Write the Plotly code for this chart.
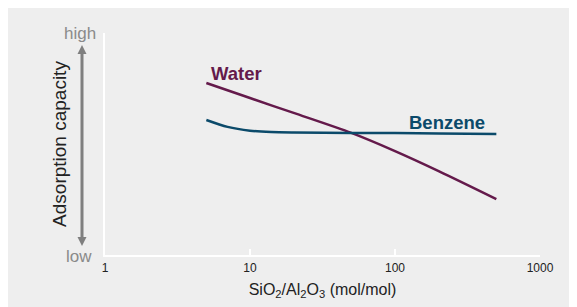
import plotly.graph_objects as go

# Data (SiO2/Al2O3 ratio vs relative adsorption capacity, 0-100 scale)
ratio = [5, 10, 20, 50, 100, 200, 500]
water = [77.5, 70.7, 64.0, 55.0, 46.8, 37.8, 25.2]
benzene_ratio = [5, 7, 10, 14, 20, 50, 100, 200, 500]
benzene = [60.8, 57.7, 56.0, 55.4, 55.2, 55.0, 54.9, 54.7, 54.5]
tick_vals = [1, 10, 100, 1000]
tick_text = ["1", "10", "100", "1000"]

WATER_C = "#641a4b"
BENZ_C = "#0b4a6a"
ARROW_C = "#7f7f7f"
FONT = "Liberation Sans, Arial, sans-serif"

fig = go.Figure()
fig.add_trace(go.Scatter(x=ratio, y=water, mode="lines", name="Water",
                         line=dict(color=WATER_C, width=2.5, shape="spline", smoothing=0.8),
                         showlegend=False))
fig.add_trace(go.Scatter(x=benzene_ratio, y=benzene, mode="lines", name="Benzene",
                         line=dict(color=BENZ_C, width=2.5, shape="spline", smoothing=0.8),
                         showlegend=False))

W, H = 577, 307
L, R, T, B = 97, 45, 25, 60
pw, ph = W - L - R, H - T - B

# helpers: screen coords of the reference (page has 8px body margin)
def px(xs):
    return (xs - 8 - L) / pw

def py(ys):
    return (H - B - (ys - 8)) / ph

# double-headed arrow: shaft + two heads
fig.add_shape(type="line", xref="paper", yref="paper",
              x0=px(82), x1=px(82), y0=py(52), y1=py(238),
              line=dict(color=ARROW_C, width=3))
fig.add_shape(type="path", xref="paper", yref="paper",
              path=f"M {px(82)} {py(45)} L {px(77.5)} {py(54)} L {px(86.5)} {py(54)} Z",
              fillcolor=ARROW_C, line=dict(width=0))
fig.add_shape(type="path", xref="paper", yref="paper",
              path=f"M {px(82)} {py(246)} L {px(77.5)} {py(237)} L {px(86.5)} {py(237)} Z",
              fillcolor=ARROW_C, line=dict(width=0))

def label(xs, ys, text, size, color):
    fig.add_annotation(xref="paper", yref="paper", x=px(xs), y=py(ys), text=text,
                       xanchor="center", yanchor="middle", showarrow=False,
                       font=dict(family=FONT, size=size, color=color))

label(80, 34, "high", 17, "#8a8a8a")
label(79, 257, "low", 17, "#8a8a8a")
label(236, 73, "<b>Water</b>", 18.5, WATER_C)
label(447, 122, "<b>Benzene</b>", 18.5, BENZ_C)

fig.update_layout(
    width=W, height=H,
    margin=dict(l=L, r=R, t=T, b=B, pad=0),
    paper_bgcolor="#eeeeee", plot_bgcolor="#eeeeee",
    font=dict(family=FONT, color="#222222"),
    xaxis=dict(type="log", range=[0, 3], tickvals=tick_vals, ticktext=tick_text,
               showgrid=False, zeroline=False, showline=True, linecolor="white", linewidth=2,
               ticks="inside", ticklen=6, tickwidth=2, tickcolor="white",
               tickfont=dict(size=12, color="#222222"), ticklabelstandoff=1,
               title=dict(text="SiO<sub>2</sub>/Al<sub>2</sub>O<sub>3</sub> (mol/mol)",
                          font=dict(size=16, color="#222222"), standoff=9),
               automargin=False),
    yaxis=dict(range=[0, 100], showgrid=False, zeroline=False, showline=True,
               linecolor="white", linewidth=2, showticklabels=False, ticks="",
               title=dict(text="Adsorption capacity", font=dict(size=19, color="#222222"),
                          standoff=31),
               automargin=False),
)

fig.write_html("out.html")
